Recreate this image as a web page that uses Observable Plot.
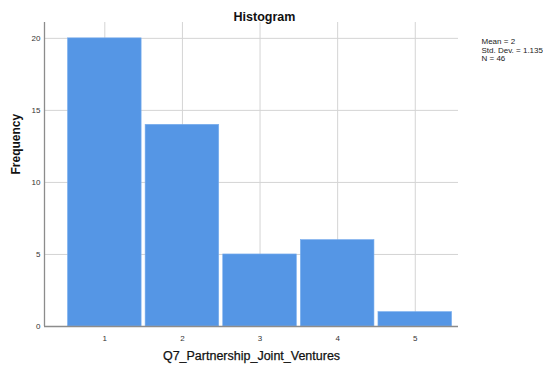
<!DOCTYPE html>
<html>
<head>
<meta charset="utf-8">
<script src="https://cdn.jsdelivr.net/npm/d3@7"></script>
<script src="https://cdn.jsdelivr.net/npm/@observablehq/plot@0.6"></script>
<style>
  body { margin: 0; background: #fff; }
  svg { display: block; }
</style>
</head>
<body>
<div id="chart"></div>
<script>
// Response categories and their frequencies
const categories = [1, 2, 3, 4, 5];
const frequencies = [20, 14, 5, 6, 1];
const yTicks = [0, 5, 10, 15, 20];
const statsLines = ["Mean = 2", "Std. Dev. = 1.135", "N = 46"];

const bins = categories.map((c, i) => ({x1: c - 0.5, x2: c + 0.5, count: frequencies[i]}));

const font = "Liberation Sans, Arial, sans-serif";

const chart = Plot.plot({
  width: 543,
  height: 372,
  marginTop: 22,
  marginLeft: 44,
  marginRight: 85,
  marginBottom: 46,
  style: {fontFamily: font, background: "#fff"},
  x: {domain: [0.223, 5.557]},
  y: {domain: [0, 21.1]},
  marks: [
    // grid lines
    Plot.ruleY(yTicks.filter(d => d > 0), {stroke: "#d4d4d4", strokeWidth: 1}),
    Plot.ruleX(categories, {stroke: "#d4d4d4", strokeWidth: 1}),
    // bars
    Plot.rectY(bins, {x1: "x1", x2: "x2", y: "count", fill: "#5596e5", stroke: "#7aaeee", strokeWidth: 0.6, insetLeft: 2, insetRight: 2}),
    // axis lines
    Plot.ruleX([0.223], {stroke: "#8c8c8c", strokeWidth: 1.3}),
    Plot.ruleY([0], {stroke: "#8c8c8c", strokeWidth: 1.3}),
    // axes
    Plot.axisX({ticks: categories, tickFormat: d => String(d), tickSize: 0, tickPadding: 9, fontSize: 8, color: "#333", label: null}),
    Plot.axisY({ticks: yTicks, tickFormat: d => String(d), tickSize: 0, tickPadding: 4, fontSize: 8, color: "#333", label: null}),
    // title
    Plot.text(["Histogram"], {frameAnchor: "top", dx: 13, dy: -10, fontSize: 12.5, fontWeight: "bold", fill: "#111"}),
    // summary statistics
    Plot.text([statsLines.join("\n")], {frameAnchor: "top-right", dx: 23, dy: 16, textAnchor: "start", lineAnchor: "top", fontSize: 8, lineHeight: 1.04, fill: "#222"}),
    // axis titles
    Plot.text(["Frequency"], {frameAnchor: "left", dx: -28, dy: 0, rotate: -90, fontSize: 12, fontWeight: "bold", fill: "#111"}),
    Plot.text(["Q7_Partnership_Joint_Ventures"], {frameAnchor: "bottom", dy: 33, fontSize: 12.5, fill: "#111", stroke: "#111", strokeWidth: 0.25})
  ]
});

document.getElementById("chart").appendChild(chart);
</script>
</body>
</html>
